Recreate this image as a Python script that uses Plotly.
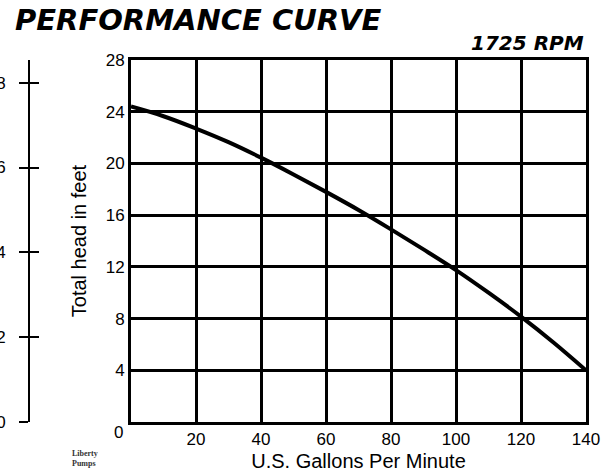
import plotly.graph_objects as go

# ---- data ----
gpm = [0, 10, 20, 30, 40, 50, 60, 70, 80, 90, 100, 110, 120, 130, 140]
head_ft = [24.4, 23.65, 22.7, 21.65, 20.45, 19.15, 17.8, 16.4, 14.9, 13.35, 11.75, 10.0, 8.15, 6.15, 4.0]

x_tickvals = [0, 20, 40, 60, 80, 100, 120, 140]
x_ticktext = ["", "20", "40", "60", "80", "100", "120", "140"]
y_tickvals = [0, 4, 8, 12, 16, 20, 24, 28]
y_ticktext = ["", "4", "8", "12", "16", "20", "24", "28"]
corner_label = "0"
m_tickvals = [0, 2, 4, 6, 8]
m_ticktext = ["0", "2", "4", "6", "8"]

title_text = "PERFORMANCE CURVE"
rpm_text = "1725 RPM"
x_title = "U.S. Gallons Per Minute"
y_title = "Total head in feet"
logo_text = "Liberty<br>Pumps"

FT_TO_M = 0.3048
Y_MAX = 28

W, H = 613, 472
ML, MR, MT, MB = 0, 27, 60, 50
plot_w = W - ML - MR
plot_h = H - MT - MB
x0_px = 131
left_axis_px = 29

fig = go.Figure()
fig.add_trace(go.Scatter(x=gpm, y=head_ft, mode="lines",
                         line=dict(color="black", width=4, shape="spline"),
                         hoverinfo="skip", showlegend=False))
# traces to attach the meter axes
fig.add_trace(go.Scatter(x=[None], y=[None], yaxis="y2", showlegend=False))
fig.add_trace(go.Scatter(x=[None], y=[None], yaxis="y3", showlegend=False))

tick_font = dict(family="Liberation Sans, Arial, sans-serif", size=17, color="black")
title_font = dict(family="Liberation Sans, Arial, sans-serif", size=20, color="black")

fig.update_layout(
    width=W, height=H,
    margin=dict(l=ML, r=MR, t=MT, b=MB, autoexpand=False),
    paper_bgcolor="white", plot_bgcolor="white",
    showlegend=False,
    title=dict(text="<b><i>" + title_text + "</i></b>",
               font=dict(family="DejaVu Sans", size=29, color="black"),
               x=15 / W, xref="container", xanchor="left",
               y=1 - 20 / H, yref="container", yanchor="middle"),
    xaxis=dict(domain=[x0_px / plot_w, 1], range=[0, 140], automargin=False,
               tickvals=x_tickvals, ticktext=x_ticktext, ticks="",
               showgrid=True, gridcolor="black", gridwidth=2.5,
               showline=True, linecolor="black", linewidth=3, mirror=True,
               zeroline=False, tickfont=tick_font,
               title=dict(text=x_title, font=title_font, standoff=6)),
    yaxis=dict(range=[0, Y_MAX], tickvals=y_tickvals, ticktext=y_ticktext, ticks="",
               automargin=False,
               showgrid=True, gridcolor="black", gridwidth=2.5,
               showline=True, linecolor="black", linewidth=3, mirror=True,
               zeroline=False, tickfont=tick_font,
               title=dict(text=y_title, font=title_font, standoff=14)),
    yaxis2=dict(overlaying="y", anchor="free", position=left_axis_px / plot_w, side="left",
                automargin=False,
                range=[0, Y_MAX * FT_TO_M], tickvals=m_tickvals, ticktext=m_ticktext,
                ticks="outside", ticklen=9, tickwidth=1.5, tickcolor="black",
                showline=True, linecolor="black", linewidth=2, showgrid=False, zeroline=False,
                tickfont=tick_font, ticklabelstandoff=10),
    yaxis3=dict(overlaying="y", anchor="free", position=left_axis_px / plot_w, side="left",
                automargin=False,
                range=[0, Y_MAX * FT_TO_M], tickvals=m_tickvals, showticklabels=False,
                ticks="inside", ticklen=9, tickwidth=1.5, tickcolor="black",
                showline=False, showgrid=False, zeroline=False),
    annotations=[
        dict(text="<b><i>" + rpm_text + "</i></b>", xref="paper", yref="paper",
             x=1, y=(H - MB - 42.5) / plot_h, xanchor="right", yanchor="middle",
             showarrow=False, font=dict(family="DejaVu Sans", size=20, color="black")),
        dict(text=corner_label, xref="x", yref="y", x=0, y=0,
             xanchor="center", yanchor="middle", xshift=-13, yshift=-10,
             showarrow=False, font=tick_font),
        dict(text="<b>" + logo_text + "</b>", xref="paper", yref="paper",
             x=85 / plot_w, y=-(458 - (H - MB)) / plot_h, xanchor="center", yanchor="middle",
             showarrow=False, font=dict(family="Liberation Serif, serif", size=8, color="#333333"),
             align="left"),
    ],
)

fig.write_html("out.html", config={"displayModeBar": False},
               post_script="document.body.style.margin='0px';document.body.style.overflow='hidden';")
